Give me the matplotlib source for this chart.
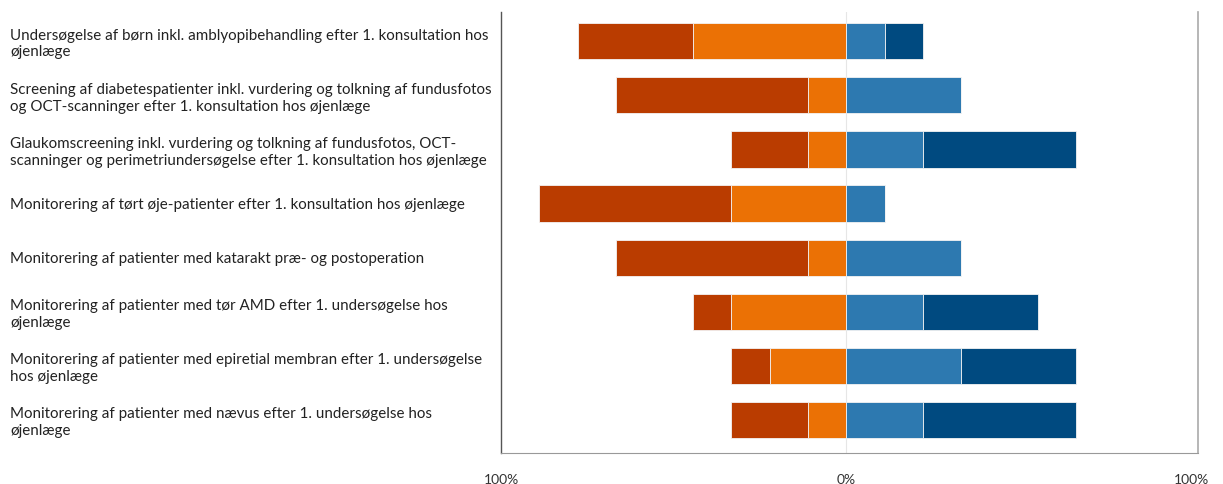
import matplotlib
matplotlib.use("Agg")
import matplotlib.pyplot as plt
import numpy as np

plt.rcParams['font.family'] = ['Lato', 'DejaVu Sans']

categories = [
    "Undersøgelse af børn inkl. amblyopibehandling efter 1. konsultation hos\nøjenlæge",
    "Screening af diabetespatienter inkl. vurdering og tolkning af fundusfotos\nog OCT-scanninger efter 1. konsultation hos øjenlæge",
    "Glaukomscreening inkl. vurdering og tolkning af fundusfotos, OCT-\nscanninger og perimetriundersøgelse efter 1. konsultation hos øjenlæge",
    "Monitorering af tørt øje-patienter efter 1. konsultation hos øjenlæge",
    "Monitorering af patienter med katarakt præ- og postoperation",
    "Monitorering af patienter med tør AMD efter 1. undersøgelse hos\nøjenlæge",
    "Monitorering af patienter med epiretial membran efter 1. undersøgelse\nhos øjenlæge",
    "Monitorering af patienter med nævus efter 1. undersøgelse hos\nøjenlæge",
]

# percentages (share of respondents)
neg_strong = [33.3, 55.6, 22.2, 55.6, 55.6, 11.1, 11.1, 22.2]   # dark orange (outer left)
neg_mild   = [44.4, 11.1, 11.1, 33.3, 11.1, 33.3, 22.2, 11.1]   # light orange (inner left)
pos_mild   = [11.1, 33.3, 22.2, 11.1, 33.3, 22.2, 33.3, 22.2]   # light blue (inner right)
pos_strong = [11.1, 0.0, 44.4, 0.0, 0.0, 33.3, 33.3, 44.4]      # dark blue (outer right)

tick_vals = [-100, 0, 100]
tick_labels = ["100%", "0%", "100%"]

c_neg_strong = "#BA3C00"
c_neg_mild = "#EB7105"
c_pos_mild = "#2D79B0"
c_pos_strong = "#004A80"

fig = plt.figure(figsize=(12.23, 4.84), dpi=100)
ax = fig.add_axes([501/1223, 1-453/484, (1198-501)/1223, (453-12)/484])

y = np.arange(len(categories))
nm = np.array(neg_mild)
ns = np.array(neg_strong)
pm = np.array(pos_mild)
ps = np.array(pos_strong)
h = 0.67
ek = dict(edgecolor="#f3f3f3", linewidth=0.6)
ax.barh(y, -nm, height=h, left=0, color=c_neg_mild, **ek)
ax.barh(y, -ns, height=h, left=-nm, color=c_neg_strong, **ek)
ax.barh(y, pm, height=h, left=0, color=c_pos_mild, **ek)
ax.barh(y, ps, height=h, left=pm, color=c_pos_strong, **ek)

ax.axvline(0, color="#e6e6e6", linewidth=0.8, zorder=0)

ax.set_xlim(-98.6, 101.9)
ax.set_ylim(len(categories) - 1 + 0.61, -0.54)

ax.set_xticks(tick_vals)
ax.set_xticklabels(tick_labels, fontsize=10, color="#333333")
ax.set_yticks(y)
ax.set_yticklabels(categories, fontsize=10.9, color="#222222", ha="left", linespacing=1.25)
ax.tick_params(axis='y', length=0, pad=491*72/100)
ax.tick_params(axis='x', length=0, pad=15)

ax.spines['top'].set_visible(False)
ax.spines['left'].set_color("#555555")
ax.spines['left'].set_linewidth(1.0)
ax.spines['bottom'].set_color("#999999")
ax.spines['right'].set_color("#aaaaaa")
ax.spines['right'].set_linewidth(1.2)

fig.savefig("out.png", dpi=100, facecolor="white")
